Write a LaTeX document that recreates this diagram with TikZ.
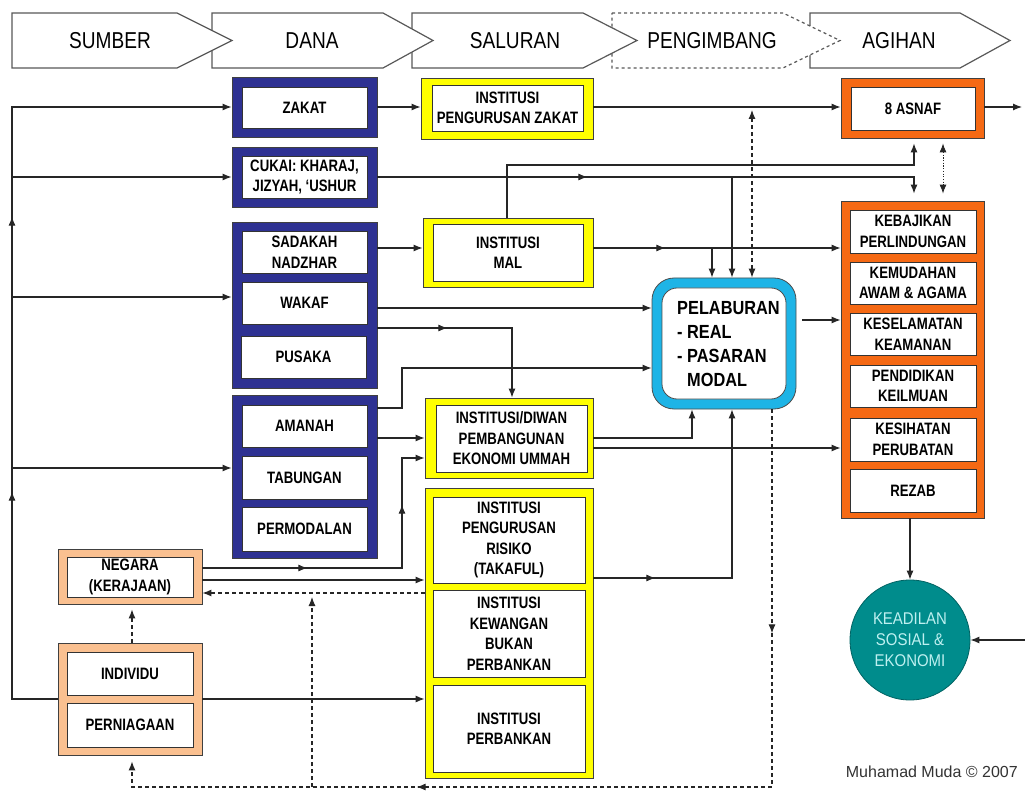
\documentclass[tikz,border=0pt]{standalone}
\usepackage{fontspec}
\setmainfont{Liberation Sans}
\newfontfamily\boxfont[FakeStretch=0.8]{Liberation Sans}
\newfontfamily\hdfont[FakeStretch=0.83]{Liberation Sans}
\newfontfamily\pelfont[FakeStretch=0.86]{Liberation Sans}
\newfontfamily\circfont[FakeStretch=0.88]{Liberation Sans}
\usetikzlibrary{arrows.meta,decorations.markings,calc}
\definecolor{navyc}{RGB}{46,49,146}
\definecolor{yelc}{RGB}{255,255,0}
\definecolor{orac}{RGB}{245,105,20}
\definecolor{cyac}{RGB}{30,180,230}
\definecolor{pchc}{RGB}{250,192,144}
\definecolor{teac}{RGB}{0,140,140}
\definecolor{teatxt}{RGB}{190,240,240}
\newcommand\mybox[7]{%
 \pgfmathsetmacro\bxcx{(#3+#5)/2}\pgfmathsetmacro\bxcy{(#4+#6)/2}%
 \pgfmathsetmacro\bxw{#5-#3}\pgfmathsetmacro\bxh{#6-#4}%
 \node[#2,minimum width=\bxw pt,minimum height=\bxh pt] (#1) at (\bxcx,\bxcy) {#7};}
\tikzset{
 hdr/.style={draw=black!65, line width=1.2pt, fill=white, line join=miter},
 hdt/.style={font=\hdfont\fontsize{23}{27}\selectfont, inner sep=0},
 frm/.style={draw=black!75, line width=0.8pt, inner sep=0},
 bluefr/.style={frm, fill=navyc},
 yelfr/.style={frm, fill=yelc},
 orfr/.style={frm, fill=orac},
 pchfr/.style={frm, fill=pchc},
 inb/.style={draw=black!80, line width=0.9pt, fill=white, inner sep=0, align=center, text=black,
   font=\boxfont\bfseries\fontsize{16.5}{20.5}\selectfont},
 con/.style={draw=black!85, line width=1.1pt},
 dsh/.style={con, dash pattern=on 4pt off 3pt},
 dtt/.style={con, line width=0.9pt, dash pattern=on 1.2pt off 1.5pt},
 ma/.style={postaction={decorate,decoration={markings,mark=at position #1 with {\arrow{>}}}}}
}
\begin{document}
\begin{tikzpicture}[x=1pt,y=-1pt,>={Latex[length=9pt,width=7pt]}]
\fill[white] (0,0) rectangle (1025,791);
\useasboundingbox (0,0) rectangle (1025,791);
% header chevrons
\draw[hdr] (810,13) -- (960,13) -- (1010,40.5) -- (960,68) -- (810,68) -- cycle;
\draw[hdr,dashed] (612,13) -- (783,13) -- (840,40.5) -- (783,68) -- (612,68) -- cycle;
\draw[hdr] (412,13) -- (583,13) -- (637,40.5) -- (583,68) -- (412,68) -- cycle;
\draw[hdr] (212,13) -- (383,13) -- (433,40.5) -- (383,68) -- (212,68) -- cycle;
\draw[hdr] (12,13) -- (177,13) -- (232,40.5) -- (177,68) -- (12,68) -- cycle;
\node[hdt] (hsum) at (110,41) {SUMBER};
\node[hdt] (hdan) at (312,41) {DANA};
\node[hdt] (hsal) at (515,41) {SALURAN};
\node[hdt] (hpen) at (712,41) {PENGIMBANG};
\node[hdt] (hagi) at (899,41) {AGIHAN};
% blue
\mybox{zakO}{bluefr}{232}{77}{377}{137}{}
\mybox{zak}{inb}{242}{87}{367}{128}{ZAKAT}
\mybox{cukO}{bluefr}{232}{147}{377}{207}{}
\mybox{cuk}{inb}{242}{156}{367}{198}{CUKAI: KHARAJ,\\JIZYAH, ‘USHUR}
\mybox{sdkO}{bluefr}{232}{222}{377}{388}{}
\mybox{sdk}{inb}{242}{231}{367}{273}{SADAKAH\\NADZHAR}
\mybox{wkf}{inb}{242}{282}{367}{324}{WAKAF}
\mybox{psk}{inb}{241}{336}{366}{378}{PUSAKA}
\mybox{amnO}{bluefr}{232}{395}{377}{558}{}
\mybox{amn}{inb}{242}{405}{367}{447}{AMANAH}
\mybox{tab}{inb}{242}{456}{367}{499}{TABUNGAN}
\mybox{pmd}{inb}{242}{507}{367}{551}{PERMODALAN}
% yellow
\mybox{izO}{yelfr}{421}{78}{593}{139}{}
\mybox{iz}{inb}{432}{85}{583}{131}{INSTITUSI\\PENGURUSAN ZAKAT}
\mybox{imO}{yelfr}{423}{218}{593}{287}{}
\mybox{im}{inb}{433}{224}{583}{281}{INSTITUSI\\MAL}
\mybox{idO}{yelfr}{425}{398}{593}{478}{}
\mybox{idw}{inb}{436}{405}{587}{472}{INSTITUSI/DIWAN\\PEMBANGUNAN\\EKONOMI UMMAH}
\mybox{ibO}{yelfr}{425}{488}{593}{778}{}
\mybox{tak}{inb}{433}{497}{585}{583}{INSTITUSI\\PENGURUSAN\\RISIKO\\(TAKAFUL)}
\mybox{kew}{inb}{433}{590}{585}{677}{INSTITUSI\\KEWANGAN\\BUKAN\\PERBANKAN}
\mybox{bnk}{inb}{433}{685}{585}{772}{INSTITUSI\\PERBANKAN}
% orange
\mybox{asO}{orfr}{841}{78}{984}{138}{}
\mybox{asn}{inb}{851}{87}{975}{130}{8 ASNAF}
\mybox{agO}{orfr}{841}{201}{984}{518}{}
\mybox{keb}{inb}{850}{210}{976}{253}{KEBAJIKAN\\PERLINDUNGAN}
\mybox{kem}{inb}{850}{262}{976}{304}{KEMUDAHAN\\AWAM \& AGAMA}
\mybox{kes}{inb}{850}{313}{976}{355}{KESELAMATAN\\KEAMANAN}
\mybox{pdk}{inb}{850}{365}{976}{407}{PENDIDIKAN\\KEILMUAN}
\mybox{ksh}{inb}{850}{418}{976}{461}{KESIHATAN\\PERUBATAN}
\mybox{rzb}{inb}{850}{469}{976}{512}{REZAB}
% peach
\mybox{ngO}{pchfr}{58}{549}{202}{604}{}
\mybox{ng}{inb}{67}{557}{193}{597}{NEGARA\\(KERAJAAN)}
\mybox{inO}{pchfr}{58}{643}{202}{755}{}
\mybox{ind}{inb}{67}{652}{193}{695}{INDIVIDU}
\mybox{pnt}{inb}{67}{703}{193}{747}{PERNIAGAAN}
% pelaburan
\node[draw=black!70, line width=0.8pt, fill=cyac, rounded corners=22pt, minimum width=144pt, minimum height=131pt, inner sep=0] (pelO) at (724,343.5) {};
\node[draw=black!70, line width=0.8pt, fill=white, rounded corners=15pt, minimum width=124pt, minimum height=111pt, inner sep=0] (pel) at (724,343.5) {};
\node[anchor=west, align=left, inner sep=0, font=\pelfont\bfseries\fontsize{19}{24}\selectfont] (peltxt) at (677,344.5) {PELABURAN\\- REAL\\- PASARAN\\\phantom{- }MODAL};
% circle
\node[circle, fill=teac, draw=teac!70!black, line width=0.8pt, minimum size=120pt, inner sep=0, align=center, text=teatxt, font=\circfont\fontsize{17}{21}\selectfont] (circ) at (910,640) {KEADILAN\\SOSIAL \&\\EKONOMI};
\node[anchor=east, inner sep=0, text=black!80, font=\fontsize{16}{19}\selectfont] (cred) at (1018,772) {Muhamad Muda © 2007};
% coordinates
\foreach \v in {107,165,177,248,297,308,320,328,368,408,438,448,458,468,568,578,580,593,699,787}
  {\coordinate (L\v) at (0,\v);}
\foreach \v in {12,132,312,402,507,512,692,712,732,752,772,914,943,1022,1025}
  {\coordinate (X\v) at (\v,0);}
% connectors
\draw[con,->,ma=253pt,ma=528pt] (inO.west |- L699) -- (X12 |- L699) -- (X12 |- L107) -- (zakO.west |- L107);
\draw[con,->] (X12 |- L177) -- (cukO.west |- L177);
\draw[con,->] (X12 |- L297) -- (sdkO.west |- L297);
\draw[con,->] (X12 |- L468) -- (amnO.west |- L468);
\draw[con,->] (zakO.east |- L107) -- (izO.west |- L107);
\draw[con,->] (izO.east |- L107) -- (asO.west |- L107);
\draw[con,->] (asO.east |- L107) -- (X1022 |- L107);
\draw[dsh,<->,shorten <=3pt] (X752 |- L107) -- (pelO.north -| X752);
\draw[con,->,ma=210pt,shorten >=7pt] (cukO.east |- L177) -- (X914 |- L177) -- (agO.north -| X914);
\draw[con,->] (X732 |- L177) -- (pelO.north -| X732);
\draw[con,->,shorten >=5pt] (imO.north -| X507) -- (X507 |- L165) -- (X914 |- L165) -- (asO.south -| X914);
\draw[dtt,<->,shorten <=5pt,shorten >=7pt] (asO.south -| X943) -- (agO.north -| X943);
\draw[con,->] (sdkO.east |- L248) -- (imO.west |- L248);
\draw[con,->,ma=72pt] (imO.east |- L248) -- (agO.west |- L248);
\draw[con,->] (X712 |- L248) -- (pelO.north -| X712);
\draw[con,->] (sdkO.east |- L308) -- (pelO.west |- L308);
\draw[con,->,ma=70pt] (sdkO.east |- L328) -- (X512 |- L328) -- (idO.north -| X512);
\draw[con,->,shorten <=6pt] (pelO.east |- L320) -- (agO.west |- L320);
\draw[con,->] (amnO.east |- L408) -- (X402 |- L408) -- (X402 |- L368) -- (pelO.west |- L368);
\draw[con,->] (amnO.east |- L438) -- (idO.west |- L438);
\draw[con,->,ma=105pt,ma=263pt] (ngO.east |- L568) -- (X402 |- L568) -- (X402 |- L458) -- (idO.west |- L458);
\draw[con,->] (ngO.east |- L580) -- (ibO.west |- L580);
\draw[dsh,->] (ibO.west |- L593) -- (ngO.east |- L593);
\draw[dsh,->,shorten >=4pt] (X312 |- L787) -- (X312 |- L593);
\draw[dsh,->,ma=224pt,ma=733pt,shorten >=6pt] (pelO.south -| X772) -- (X772 |- L787) -- (X132 |- L787) -- (inO.south -| X132);
\draw[con,->] (inO.east |- L699) -- (ibO.west |- L699);
\draw[dsh,->,shorten >=5pt] (inO.north -| X132) -- (ngO.south -| X132);
\draw[con,->] (idO.east |- L438) -- (X692 |- L438) -- (pelO.south -| X692);
\draw[con,->] (idO.east |- L448) -- (agO.west |- L448);
\draw[con,->,ma=62pt] (ibO.east |- L578) -- (X732 |- L578) -- (pelO.south -| X732);
\draw[con,->] (agO.south -| circ.north) -- (circ.north);
\draw[con,->] (X1025 |- circ.east) -- (circ.east);
\end{tikzpicture}
\end{document}
